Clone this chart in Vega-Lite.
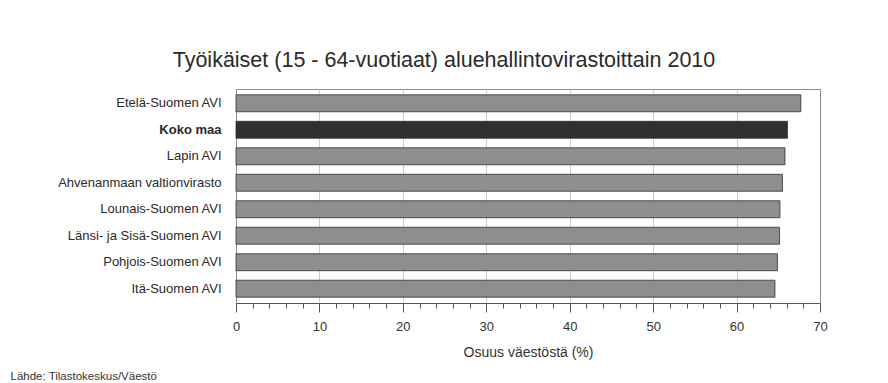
{
  "$schema": "https://vega.github.io/schema/vega-lite/v6.json",
  "autosize": "none",
  "width": 584,
  "height": 214,
  "padding": {"left": 236, "top": 89, "right": 68, "bottom": 80},
  "background": "white",
  "title": {
    "text": "Työikäiset (15 - 64-vuotiaat) aluehallintovirastoittain 2010",
    "font": "Liberation Sans",
    "fontSize": 21.5,
    "fontWeight": "normal",
    "color": "#2a2a2a",
    "anchor": "middle",
    "dx": -84,
    "offset": 18
  },
  "config": {
    "view": {"stroke": "#8c8c8c", "strokeWidth": 1},
    "font": "Liberation Sans"
  },
  "data": {
    "values": [
      {"alue": "Etelä-Suomen AVI", "osuus": 67.7, "koko": "ei"},
      {"alue": "Koko maa", "osuus": 66.1, "koko": "kyllä"},
      {"alue": "Lapin AVI", "osuus": 65.8, "koko": "ei"},
      {"alue": "Ahvenanmaan valtionvirasto", "osuus": 65.5, "koko": "ei"},
      {"alue": "Lounais-Suomen AVI", "osuus": 65.2, "koko": "ei"},
      {"alue": "Länsi- ja Sisä-Suomen AVI", "osuus": 65.15, "koko": "ei"},
      {"alue": "Pohjois-Suomen AVI", "osuus": 64.9, "koko": "ei"},
      {"alue": "Itä-Suomen AVI", "osuus": 64.6, "koko": "ei"}
    ]
  },
  "mark": {"type": "bar", "stroke": "#303030", "strokeWidth": 0.8},
  "encoding": {
    "y": {
      "field": "alue",
      "type": "nominal",
      "sort": null,
      "scale": {"paddingInner": 0.36, "paddingOuter": 0.22},
      "axis": {
        "title": "Lähde: Tilastokeskus/Väestö",
        "titleAngle": 0,
        "titleAlign": "left",
        "titleBaseline": "alphabetic",
        "titleX": -226,
        "titleY": 290,
        "titleFont": "Liberation Sans",
        "titleFontSize": 11.5,
        "titleFontWeight": "normal",
        "titleColor": "#333333",
        "ticks": false,
        "domain": false,
        "labelPadding": 15,
        "labelFont": "Liberation Sans",
        "labelFontSize": 13,
        "labelColor": "#2a2a2a",
        "labelFontWeight": {"condition": {"test": "datum.value === 'Koko maa'", "value": "bold"}, "value": "normal"},
        "labelLimit": 300
      }
    },
    "x": {
      "field": "osuus",
      "type": "quantitative",
      "scale": {"domain": [0, 70], "nice": false},
      "axis": {
        "title": "Osuus väestöstä (%)",
        "titleFont": "Liberation Sans",
        "titleFontSize": 14,
        "titleFontWeight": "normal",
        "titleColor": "#333333",
        "titlePadding": 12,
        "values": [0,2,4,6,8,10,12,14,16,18,20,22,24,26,28,30,32,34,36,38,40,42,44,46,48,50,52,54,56,58,60,62,64,66,68,70],
        "labelExpr": "datum.value % 10 === 0 ? datum.label : ''",
        "labelFont": "Liberation Sans",
        "labelFontSize": 13,
        "labelColor": "#333333",
        "labelPadding": 8,
        "labelFlush": false,
        "domainColor": "#555555",
        "tickColor": "#555555",
        "tickSize": {"condition": {"test": "datum.value % 10 === 0", "value": 9}, "value": 5},
        "grid": true,
        "gridColor": "#cccccc",
        "gridOpacity": {"condition": {"test": "datum.value % 10 === 0 && datum.value > 0 && datum.value < 70", "value": 1}, "value": 0}
      }
    },
    "color": {
      "field": "koko",
      "type": "nominal",
      "scale": {"domain": ["ei", "kyllä"], "range": ["#8e8e8e", "#303030"]},
      "legend": null
    }
  }
}
